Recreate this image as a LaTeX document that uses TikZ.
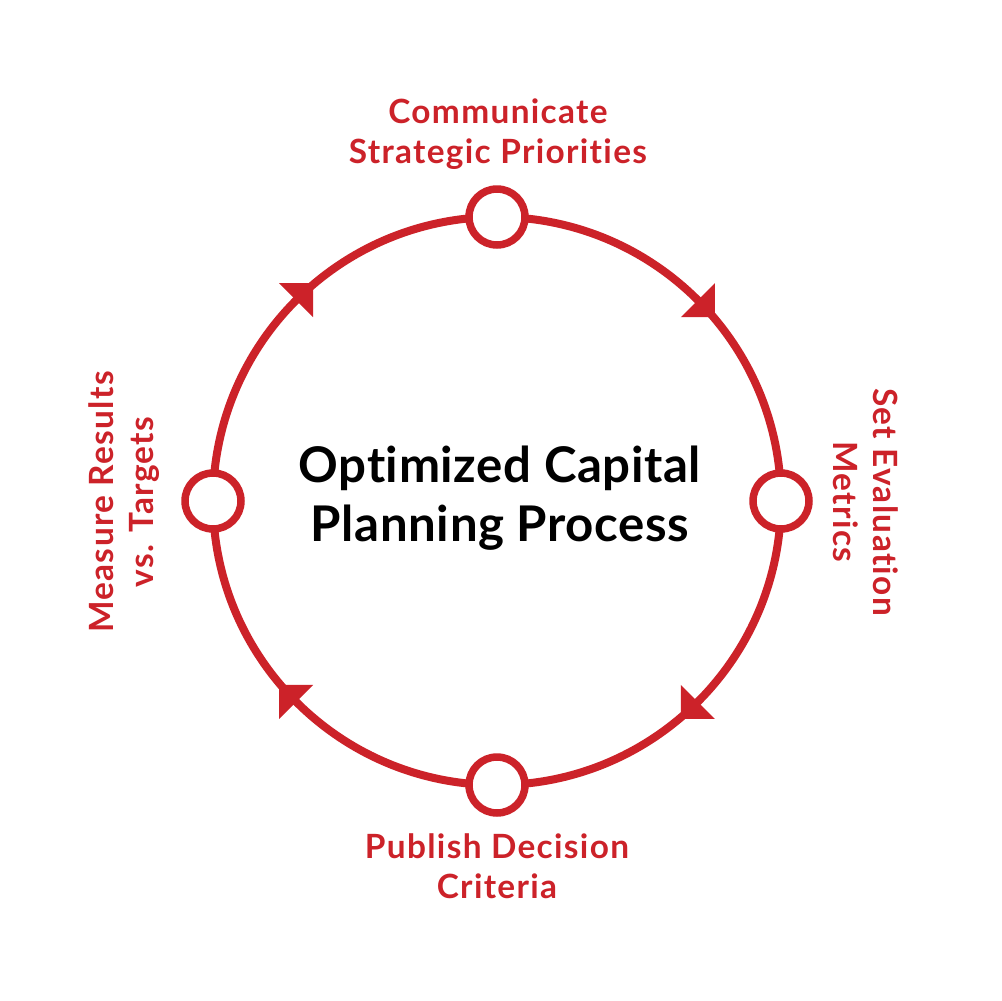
\documentclass[tikz,border=0pt]{standalone}
\usepackage{fontspec}
\setmainfont{Lato}
\newfontfamily\redfont[LetterSpace=4,Ligatures={NoCommon,NoRare,NoDiscretionary},RawFeature={-liga;-dlig}]{Lato}
\newfontfamily\titlefont[LetterSpace=1.2,Ligatures={NoCommon,NoRare,NoDiscretionary},RawFeature={-liga;-dlig}]{Lato}
\usetikzlibrary{calc}
\definecolor{cred}{HTML}{CC2229}
\begin{document}
\begin{tikzpicture}[x=0.02cm,y=-0.02cm,
  ring/.style={draw=cred,line width=0.16cm},
  stage/.style={circle,draw=cred,fill=white,line width=0.15cm,minimum size=1.12cm,inner sep=0pt},
  lbl/.style={text=cred,font=\redfont\bfseries\fontsize{19}{22.8}\selectfont,align=center,inner sep=0pt},
  title/.style={text=black,font=\titlefont\bfseries\fontsize{28}{33.5}\selectfont,align=center,inner sep=0pt},
  tip/.style={fill=cred,draw=none}]
\useasboundingbox[fill=white] (0,0) rectangle (1001,1001);
\coordinate (c) at (497,501);
\draw[ring] (c) circle[radius=284];
% arrowheads (clockwise)
\foreach \a in {-45,45,135,225}{
  \coordinate (p\a) at ($(c)+(\a:284)$);
  \fill[tip] ($(c)+(\a:308)$) -- ($(c)+(\a:260)$) -- ($(p\a)+(\a+90:24)$) -- cycle;
}
% stage circles
\node[stage] (top) at ($(c)+(-90:284)$) {};
\node[stage] (right) at ($(c)+(0:284)$) {};
\node[stage] (bottom) at ($(c)+(90:284)$) {};
\node[stage] (left) at ($(c)+(180:284)$) {};
% labels
\node[lbl] (ltop) at (498,134) {Communicate\\Strategic Priorities};
\node[lbl,rotate=-90] (lright) at (866,502) {Set Evaluation\\Metrics};
\node[lbl] (lbottom) at (497,866) {Publish Decision\\Criteria};
\node[lbl,rotate=90] (lleft) at (124,502) {Measure Results\\vs. Targets};
\node[title] (center) at (500,498) {Optimized Capital\\Planning Process};
\end{tikzpicture}
\end{document}
